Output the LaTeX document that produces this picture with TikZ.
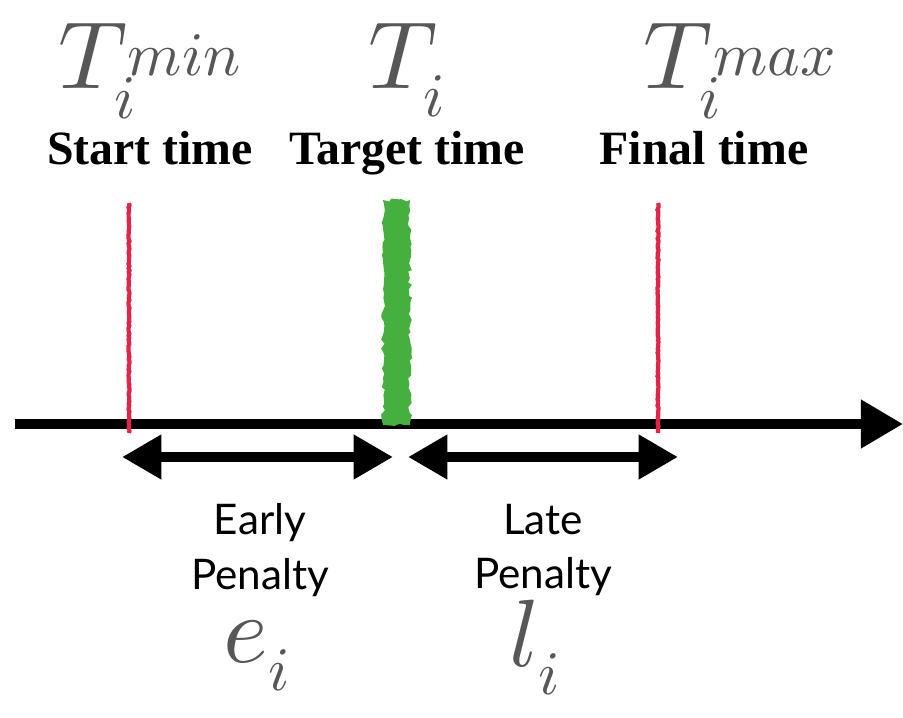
\documentclass[tikz,border=0pt]{standalone}
\usepackage{fontspec}
\setsansfont{Lato}
\newfontfamily\labelfont{Liberation Serif}
\DeclareFontFamily{OML}{cmm}{\skewchar\font'177}
\DeclareFontShape{OML}{cmm}{m}{it}{<->cmmi10}{}
\DeclareMathSizes{68}{68}{44}{34}
\usetikzlibrary{arrows.meta,decorations.pathmorphing}
\definecolor{redmark}{HTML}{E2234A}
\definecolor{greenmark}{HTML}{46B03E}
\definecolor{grayvar}{HTML}{575757}
\tikzset{
  timelab/.style={font=\labelfont\bfseries\fontsize{34}{36}\selectfont,anchor=base,inner sep=0pt},
  varlab/.style={text=grayvar,font=\fontsize{68}{68}\selectfont,anchor=base,inner sep=0pt},
  penlab/.style={font=\sffamily\fontsize{30}{39}\selectfont,align=center},
  timeaxis/.style={line width=7pt,-{Triangle[length=30pt,width=33pt]}},
  twoway/.style={line width=7pt,{Triangle[length=28pt,width=30pt]}-{Triangle[length=28pt,width=30pt]}},
  limitmark/.style={redmark,line width=3pt,decorate,decoration={random steps,segment length=1.5pt,amplitude=0.4pt}},
}
\begin{document}
\begin{tikzpicture}[x=0.025cm,y=-0.025cm]
        \useasboundingbox (0,0) rectangle (903,718);
        %asse dei tempi
        \coordinate (axisL) at (15,424);
        \coordinate (axisR) at (903,424);
        \draw[timeaxis](axisL)--(axisR);
        %limiti della finestra
        \coordinate (startTop) at (129,203);
        \coordinate (startBot) at (129,433);
        \coordinate (finalTop) at (658,203);
        \coordinate (finalBot) at (658,433);
        \draw[limitmark](startTop)--(startBot);
        \draw[limitmark](finalTop)--(finalBot);
        %tempo obiettivo
        \fill[greenmark,decorate,decoration={random steps,segment length=3pt,amplitude=1.4pt}](383,200) rectangle (410,425);
        %etichette in alto
        \node[varlab] (tmin) at (150,88) {$T_i^{min}$};
        \node[varlab] (ttarget) at (407,88) {$T_i$};
        \node[varlab] (tmax) at (740,88) {$T_i^{max}$};
        \node[timelab] (startlab) at (150,164) {Start time};
        \node[timelab] (targetlab) at (407,164) {Target time};
        \node[timelab] (finallab) at (704,164) {Final time};
        %penalita
        \coordinate (earlyL) at (122,457);
        \coordinate (earlyR) at (393,457);
        \coordinate (lateL) at (408,457);
        \coordinate (lateR) at (678,457);
        \draw[twoway](earlyL)--(earlyR);
        \draw[twoway](lateL)--(lateR);
        \node[penlab] (earlylab) at (260,550) {Early\\Penalty};
        \node[penlab] (latelab) at (543,550) {Late\\Penalty};
        \node[varlab] (ecoef) at (257,662) {$e_i$};
        \node[varlab] (lcoef) at (535,666) {$l_i$};
\end{tikzpicture}
\end{document}
